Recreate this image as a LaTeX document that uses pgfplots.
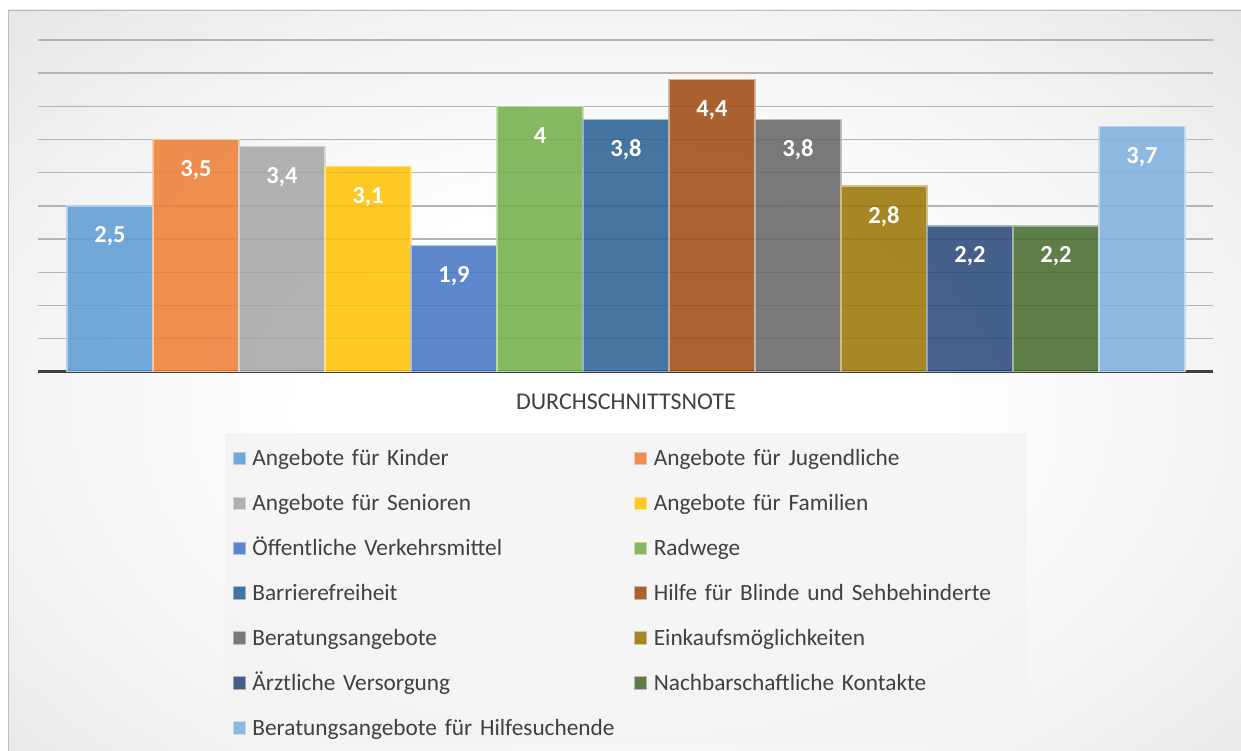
\documentclass[border=0pt]{standalone}
\usepackage{pgfplots}
\pgfplotsset{compat=1.18}
\usepackage{fontspec}
\setmainfont{Carlito}
\definecolor{c1}{HTML}{5B9BD5}
\definecolor{c2}{HTML}{ED7D31}
\definecolor{c3}{HTML}{A5A5A5}
\definecolor{c4}{HTML}{FFC000}
\definecolor{c5}{HTML}{4472C4}
\definecolor{c6}{HTML}{70AD47}
\definecolor{c7}{HTML}{255E91}
\definecolor{c8}{HTML}{9E480E}
\definecolor{c9}{HTML}{636363}
\definecolor{c10}{HTML}{997300}
\definecolor{c11}{HTML}{264478}
\definecolor{c12}{HTML}{43682B}
\definecolor{c13}{HTML}{7CAFDD}
\definecolor{labc}{HTML}{404040}
\definecolor{axisdark}{HTML}{404040}
\definecolor{gridc}{HTML}{B4B4B4}
\definecolor{bgmid}{HTML}{D4D4D4}
\definecolor{bgouter}{HTML}{C2C2C2}
\definecolor{bglight}{HTML}{F2F2F2}
\definecolor{panelborder}{HTML}{BDBDBD}
\definecolor{legbg}{HTML}{F3F3F3}
\pgfdeclareradialshading{bgshade}{\pgfpoint{0bp}{0bp}}{color(0bp)=(white); color(13bp)=(white); color(26bp)=(bglight); color(50bp)=(bgmid); color(72bp)=(bgouter)}
\pgfplotsset{barsty/.style={fill=#1, fill opacity=0.85, draw=#1!45!white, draw opacity=0.9, line width=1.2pt,
  legend image code/.code={\draw[fill=#1, fill opacity=0.85, draw=#1!45!white, line width=1pt] (0pt,-6.2pt) rectangle (12.4pt,6.2pt);}}}
\begin{document}
\begin{tikzpicture}
\useasboundingbox (0pt,0pt) rectangle (1241pt,751pt);
\fill[white] (0pt,0pt) rectangle (1241pt,751pt);
\begin{scope}
\clip (8pt,0pt) rectangle (1241pt,741pt);
\shade[shading=bgshade] (8pt,-60pt) rectangle (1241pt,741pt);
\end{scope}
\draw[panelborder, line width=1pt] (8.5pt,-2pt) -- (8.5pt,740.5pt) -- (1243pt,740.5pt);
\fill[legbg, fill opacity=0.8] (225pt,6pt) rectangle (1027pt,318pt);
\begin{axis}[
  at={(38pt,379pt)}, anchor=south west,
  scale only axis, width=1175pt, height=332pt,
  xmin=-0.837, xmax=12.826, ymin=0, ymax=5,
  every axis plot/.append style={ybar, bar width=1, bar shift=0pt},
  axis x line*=bottom, axis y line*=left,
  y axis line style={draw=none},
  x axis line style={line width=3pt, draw=axisdark, -},
  ytick={0,0.5,1,1.5,2,2.5,3,3.5,4,4.5,5}, yticklabels={},
  ymajorgrids, grid style={line width=1.4pt, draw=gridc},
  xtick={6}, xticklabels={DURCHSCHNITTSNOTE},
  major tick length=0pt,
  xticklabel style={font=\fontsize{24}{28}\selectfont, text=labc, anchor=base, inner sep=0pt, yshift=-38pt},
  nodes near coords, point meta=explicit symbolic,
  every node near coord/.append style={font=\bfseries\fontsize{24.5}{28}\selectfont, text=white, text opacity=1, anchor=base, yshift=-37pt},
  legend columns=2,
  legend cell align=left,
  legend style={at={(0.1657,-0.2238)}, anchor=north west, draw=none, fill=none, inner sep=0pt, outer sep=0pt,
    font=\fontsize{23.3}{28}\selectfont, text=labc,
    nodes={inner sep=0pt, text height=19pt, text depth=5pt, text width=375pt},
    row sep=20.95pt,
    /tikz/every odd column/.append style={column sep=6.3pt},
    /tikz/every even column/.append style={column sep=6.7pt}},
]
\addplot[barsty=c1] coordinates {(0,2.5) [{2,5}]};
\addlegendentry{Angebote für Kinder}
\addplot[barsty=c2] coordinates {(1,3.5) [{3,5}]};
\addlegendentry{Angebote für Jugendliche}
\addplot[barsty=c3] coordinates {(2,3.4) [{3,4}]};
\addlegendentry{Angebote für Senioren}
\addplot[barsty=c4] coordinates {(3,3.1) [{3,1}]};
\addlegendentry{Angebote für Familien}
\addplot[barsty=c5] coordinates {(4,1.9) [{1,9}]};
\addlegendentry{Öffentliche Verkehrsmittel}
\addplot[barsty=c6] coordinates {(5,4.0) [{4}]};
\addlegendentry{Radwege}
\addplot[barsty=c7] coordinates {(6,3.8) [{3,8}]};
\addlegendentry{Barrierefreiheit}
\addplot[barsty=c8] coordinates {(7,4.4) [{4,4}]};
\addlegendentry{Hilfe für Blinde und Sehbehinderte}
\addplot[barsty=c9] coordinates {(8,3.8) [{3,8}]};
\addlegendentry{Beratungsangebote}
\addplot[barsty=c10] coordinates {(9,2.8) [{2,8}]};
\addlegendentry{Einkaufsmöglichkeiten}
\addplot[barsty=c11] coordinates {(10,2.2) [{2,2}]};
\addlegendentry{Ärztliche Versorgung}
\addplot[barsty=c12] coordinates {(11,2.2) [{2,2}]};
\addlegendentry{Nachbarschaftliche Kontakte}
\addplot[barsty=c13] coordinates {(12,3.7) [{3,7}]};
\addlegendentry{Beratungsangebote für Hilfesuchende}
\end{axis}
\end{tikzpicture}
\end{document}
